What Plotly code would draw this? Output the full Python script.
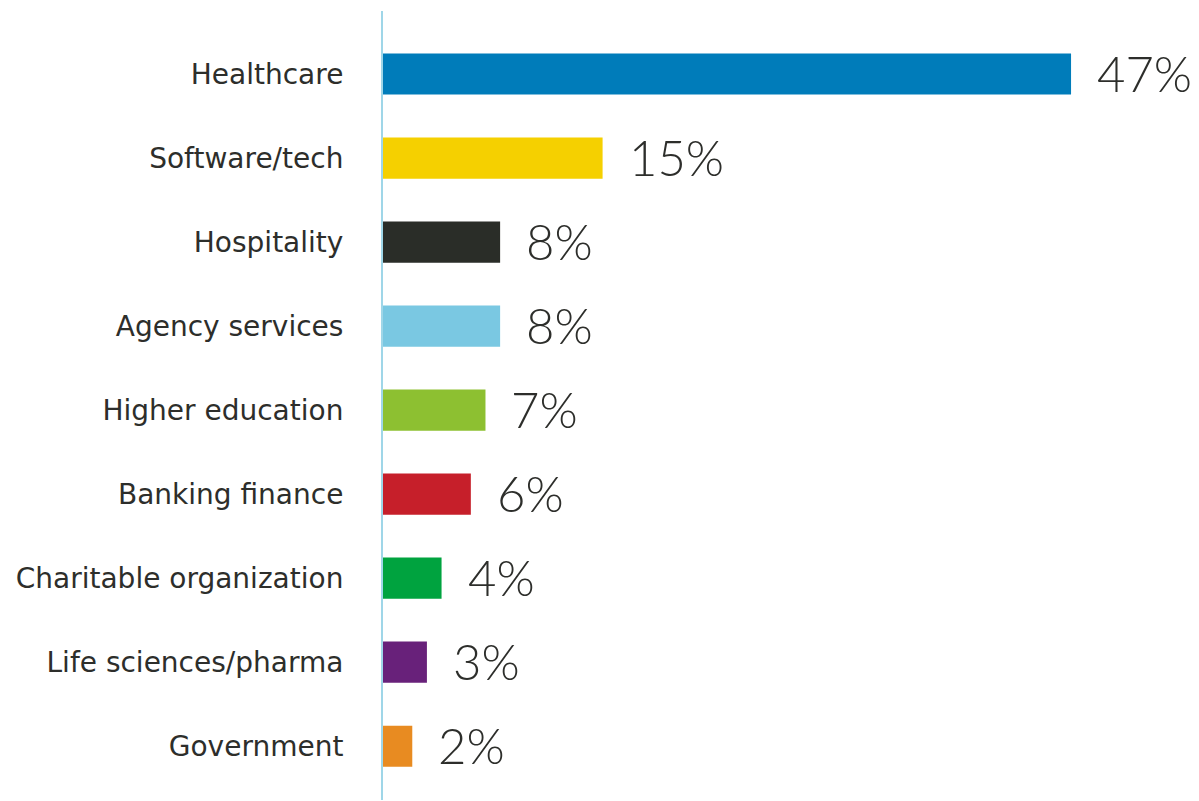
import plotly.graph_objects as go

# Share of respondents by industry
industries = [
    "Healthcare",
    "Software/tech",
    "Hospitality",
    "Agency services",
    "Higher education",
    "Banking finance",
    "Charitable organization",
    "Life sciences/pharma",
    "Government",
]
shares = [47, 15, 8, 8, 7, 6, 4, 3, 2]
bar_colors = [
    "#007cba",
    "#f5d000",
    "#2a2d28",
    "#7ac8e2",
    "#8dc031",
    "#c61f2a",
    "#00a33f",
    "#68217a",
    "#e88b21",
]

TEXT = "#2d2e2b"
LABEL_FONT = "'DejaVu Sans', Verdana, sans-serif"
VALUE_FONT = "Lato, 'Open Sans', sans-serif"

fig = go.Figure(
    go.Bar(
        x=shares,
        y=industries,
        orientation="h",
        marker=dict(color=bar_colors, line=dict(width=0)),
        width=0.49,
        hoverinfo="x+y",
    )
)

for name, val in zip(industries, shares):
    fig.add_annotation(
        x=val,
        y=name,
        text=f"{val}%",
        showarrow=False,
        xanchor="left",
        yanchor="middle",
        xshift=24,
        yshift=1,
        font=dict(family=VALUE_FONT, size=49, color=TEXT, weight=300),
    )

fig.update_layout(
    width=1199,
    height=801,
    margin=dict(l=383, r=0, t=11, b=1),
    paper_bgcolor="white",
    plot_bgcolor="white",
    showlegend=False,
    font=dict(family=LABEL_FONT, color=TEXT),
)

fig.update_xaxes(
    range=[0, 55.74],
    visible=False,
    showgrid=False,
    zeroline=False,
)

fig.update_yaxes(
    type="category",
    categoryorder="array",
    categoryarray=industries,
    range=[8.64, -0.75],
    showline=True,
    linecolor="#9fd6e8",
    linewidth=2,
    showgrid=False,
    zeroline=False,
    ticks="",
    ticklabelstandoff=32,
    tickfont=dict(family=LABEL_FONT, size=28, color=TEXT),
)

fig.write_html("out.html")
